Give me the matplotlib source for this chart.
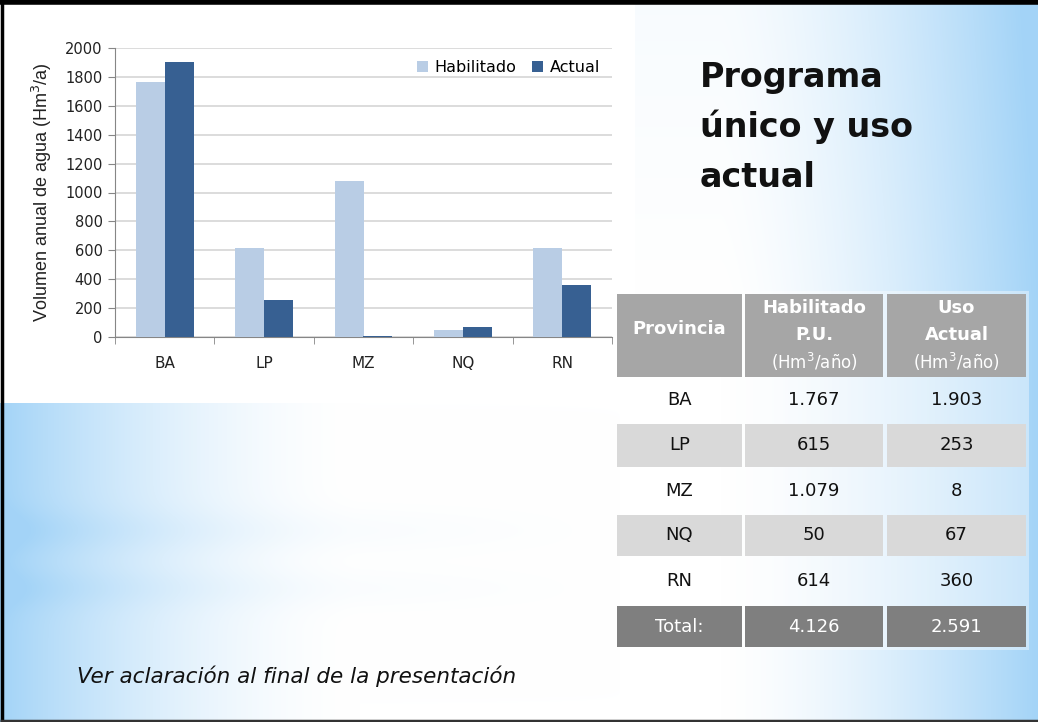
import numpy as np
import matplotlib.pyplot as plt
from matplotlib.patches import Rectangle

# datos
provincias = ["BA", "LP", "MZ", "NQ", "RN"]
habilitado = [1767, 615, 1079, 50, 614]
actual = [1903, 253, 8, 67, 360]
hab_txt = ["1.767", "615", "1.079", "50", "614"]
act_txt = ["1.903", "253", "8", "67", "360"]
total_hab = "4.126"
total_act = "2.591"
titulo = ["Programa", "único y uso", "actual"]

W, H = 1038, 722
fig = plt.figure(figsize=(W / 100, H / 100), dpi=100)

# fondo de la diapositiva (degradado celeste)
bg = fig.add_axes([0, 0, 1, 1])
bg.set_xlim(0, W)
bg.set_ylim(H, 0)
bg.axis("off")
xx, yy = np.meshgrid(np.arange(W), np.arange(H))
w_r = np.clip((xx - 720) / (W - 720), 0, 1) ** 1.5
w_l = np.clip((360 - xx) / 360, 0, 1) ** 1.7
w_top = 0.08 * np.clip((300 - yy) / 300, 0, 1)
streak = (0.14 * np.exp(-((yy - 530) / 22) ** 2) + 0.12 * np.exp(-((yy - 588) / 20) ** 2)) \
    * np.clip((620 - xx) / 620, 0, 1)
w = np.clip(np.maximum(w_r, w_l) + streak + w_top, 0, 1)
blue = np.array([0.64, 0.83, 0.97])
img = 1 - w[..., None] * (1 - blue)
bg.imshow(img, extent=[0, W, H, 0], aspect="auto", zorder=0)

# recuadro blanco del grafico
bg.add_patch(Rectangle((0, 0), 635, 403, facecolor="white", edgecolor="none", zorder=1))

# titulo
for k, linea in enumerate(titulo):
    bg.text(700, 87 + 50 * k, linea, fontsize=24, fontweight="bold",
            va="baseline", ha="left", color="#111111", zorder=3)

# tabla
cols = [(617, 742), (745, 883), (887, 1026)]
rows = [(294, 377), (380, 420), (424, 467), (471, 512), (515, 556), (559, 603), (606, 647)]
bg.add_patch(Rectangle((614, 291), 415, 359, facecolor="white", alpha=0.4,
                       edgecolor="none", zorder=1.5))


def cell(c, r, color):
    x0, x1 = cols[c]
    y0, y1 = rows[r]
    bg.add_patch(Rectangle((x0, y0), x1 - x0, y1 - y0, facecolor=color,
                           edgecolor="none", zorder=2))


for c in range(3):
    cell(c, 0, "#a6a6a6")
    for r in range(1, 6):
        if r % 2 == 0:
            cell(c, r, "#d9d9d9")
    cell(c, 6, "#7f7f7f")

cx = [(a + b) / 2 for a, b in cols]
cy = [(a + b) / 2 for a, b in rows]
hdr = dict(fontsize=13, fontweight="bold", color="white", ha="center", va="center", zorder=3)
bg.text(cx[0], cy[0] - 6, "Provincia", **hdr)
bg.text(cx[1], 308, "Habilitado", **hdr)
bg.text(cx[1], 335, "P.U.", **hdr)
bg.text(cx[2], 308, "Uso", **hdr)
bg.text(cx[2], 335, "Actual", **hdr)
bg.text(cx[1], 362, "(Hm$^3$/año)", fontsize=12, color="white", ha="center", va="center", zorder=3)
bg.text(cx[2], 362, "(Hm$^3$/año)", fontsize=12, color="white", ha="center", va="center", zorder=3)

celda = dict(fontsize=13, ha="center", va="center", color="#111111", zorder=3)
for i, p in enumerate(provincias):
    y = cy[i + 1]
    bg.text(cx[0], y, p, **celda)
    bg.text(cx[1], y, hab_txt[i], **celda)
    bg.text(cx[2], y, act_txt[i], **celda)

tot = dict(fontsize=13, ha="center", va="center", color="white", zorder=3)
bg.text(cx[0], cy[6], "Total:", **tot)
bg.text(cx[1], cy[6], total_hab, **tot)
bg.text(cx[2], cy[6], total_act, **tot)

# nota al pie
bg.text(77, 676, "Ver aclaración al final de la presentación", fontsize=15.5,
        style="italic", ha="left", va="center", color="#111111", zorder=3)

# marco
bg.plot([0, W], [2, 2], color="black", lw=4, zorder=5, solid_capstyle="butt")
bg.plot([1.5, 1.5], [0, H], color="black", lw=2.5, zorder=5, solid_capstyle="butt")
bg.plot([0, W], [720.5, 720.5], color="#333333", lw=2.5, zorder=5, solid_capstyle="butt")

# grafico de barras
ax = fig.add_axes([115 / W, 1 - 337 / H, (612 - 115) / W, (337 - 48) / H])
ax.set_facecolor("none")
x = np.arange(len(provincias))
bw = 0.29
ax.bar(x - bw / 2, habilitado, bw, color="#b9cde5", label="Habilitado", zorder=3)
ax.bar(x + bw / 2, actual, bw, color="#376092", label="Actual", zorder=3)
ax.set_xlim(-0.5, 4.5)
ax.set_ylim(0, 2000)
ax.set_yticks(range(0, 2001, 200))
ax.set_xticks(x)
ax.set_xticklabels(provincias)
ax.set_xticks(np.arange(-0.5, 5, 1), minor=True)
ax.tick_params(axis="x", which="major", length=0, pad=14, labelsize=11, labelcolor="#222222")
ax.tick_params(axis="x", which="minor", length=5, color="#868686", direction="out")
ax.tick_params(axis="y", length=5, color="#868686", labelsize=10.5, labelcolor="#222222", pad=4)
ax.grid(axis="y", color="#d9d9d9", lw=1.3, zorder=0)
for s in ["top", "right"]:
    ax.spines[s].set_visible(False)
for s in ["left", "bottom"]:
    ax.spines[s].set_color("#868686")
ax.set_ylabel("Volumen anual de agua (Hm$^3$/a)", fontsize=13, family="Liberation Sans",
              color="#222222", labelpad=8)
ax.legend(loc="upper right", bbox_to_anchor=(0.995, 0.99), ncol=2, frameon=False,
          fontsize=11.5, handlelength=0.7, handleheight=0.7, handletextpad=0.4,
          columnspacing=1.0, borderaxespad=0.2)

fig.savefig("out.png", dpi=100)
